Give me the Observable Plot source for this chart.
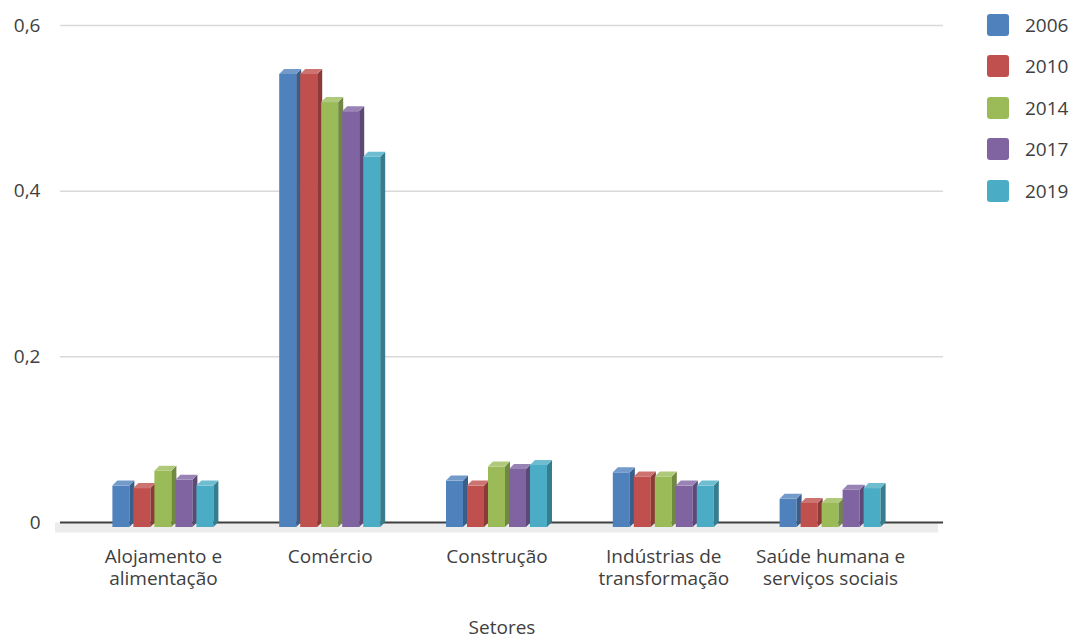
<!DOCTYPE html>
<html>
<head>
<meta charset="utf-8">
<script src="https://cdn.jsdelivr.net/npm/d3@7"></script>
<script src="https://cdn.jsdelivr.net/npm/@observablehq/plot@0.6"></script>
<style>
  body { margin: 0; background: #fff; font-family: "Open Sans", sans-serif; }
  #chart { position: relative; width: 1073px; height: 641px; }
  #legend { position: absolute; left: 987px; top: 4px; }
  .item { display: flex; align-items: center; height: 41.5px; font-size: 19px; color: #404040; }
  .sw { width: 22px; height: 22px; border-radius: 3px; margin-right: 16px; }
</style>
</head>
<body>
<div id="chart"><div id="legend"></div></div>
<script>
// Sectors (categories) and their two-line axis labels
const sectors = ["Alojamento e alimentação", "Comércio", "Construção", "Indústrias de transformação", "Saúde humana e serviços sociais"];
const sectorLabels = ["Alojamento e\nalimentação", "Comércio", "Construção", "Indústrias de\ntransformação", "Saúde humana e\nserviços sociais"];

// Series
const years = ["2006", "2010", "2014", "2017", "2019"];
const colors = ["#4F81BD", "#C0504D", "#9BBB59", "#8064A2", "#4BACC6"];
const v2006 = [0.050, 0.547, 0.056, 0.066, 0.034];
const v2010 = [0.047, 0.547, 0.050, 0.061, 0.029];
const v2014 = [0.068, 0.513, 0.073, 0.061, 0.029];
const v2017 = [0.057, 0.502, 0.070, 0.050, 0.045];
const v2019 = [0.050, 0.447, 0.075, 0.050, 0.047];
const series = [v2006, v2010, v2014, v2017, v2019];

// Axis ticks
const yTicks = [0, 0.2, 0.4, 0.6];

const data = years.flatMap((year, j) =>
  sectors.map((sector, i) => ({sector, year, value: series[j][i]}))
);

// Layout of the pseudo-3D columns
const depth = 5;          // extrusion of the top and side faces
const barWidth = 17;      // front face width
const pitch = 21;         // distance between neighbouring columns
const xRange = [79.5, 913.5];
const bandwidth = (xRange[1] - xRange[0]) / sectors.length;
const groupWidth = pitch * (years.length - 1) + barWidth;

// Adds a darker side face and a lighter top face to every bar
function extrude(color) {
  const sideColor = d3.rgb(color).darker(0.9).formatHex();
  const topColor = d3.interpolateRgb(color, "#ffffff")(0.2);
  return (index, scales, values, dimensions, context, next) => {
    const g = next(index, scales, values, dimensions, context);
    const ns = g.namespaceURI;
    for (const r of Array.from(g.querySelectorAll("rect"))) {
      const x = +r.getAttribute("x"), y = +r.getAttribute("y");
      const w = +r.getAttribute("width"), h = +r.getAttribute("height");
      const side = document.createElementNS(ns, "path");
      side.setAttribute("d", `M${x + w},${y}l${depth},${-depth}v${h}l${-depth},${depth}Z`);
      side.setAttribute("fill", sideColor);
      const top = document.createElementNS(ns, "path");
      top.setAttribute("d", `M${x},${y}l${depth},${-depth}h${w}l${-depth},${depth}Z`);
      top.setAttribute("fill", topColor);
      r.after(side, top);
    }
    return g;
  };
}

const barMarks = years.map((year, j) => {
  const insetLeft = (bandwidth - groupWidth) / 2 + pitch * j;
  const insetRight = bandwidth - insetLeft - barWidth;
  return Plot.barY(data.filter(d => d.year === year), {
    x: "sector",
    y: "value",
    fill: colors[j],
    insetLeft,
    insetRight,
    render: extrude(colors[j])
  });
});

const fmt = d => String(d).replace(".", ",");

const chart = Plot.plot({
  width: 1073,
  height: 641,
  marginTop: 30,
  marginBottom: 114,
  marginLeft: 60,
  marginRight: 130,
  style: {fontFamily: "Open Sans, sans-serif", fontSize: "19px", color: "#404040", background: "#fff", overflow: "visible"},
  x: {domain: sectors, range: xRange, padding: 0, round: false, label: null},
  y: {domain: [0, 0.6], label: null},
  marks: [
    // back-wall gridlines
    Plot.ruleY(yTicks.filter(d => d > 0), {stroke: "#d9d9d9", strokeWidth: 1.5, dy: -depth}),
    // floor
    Plot.ruleY([0], {stroke: "#ececec", strokeWidth: 10, dx: -depth}),
    // baseline
    Plot.ruleY([0], {stroke: "#404040", strokeWidth: 2, dy: -depth}),
    Plot.axisY({ticks: yTicks, tickFormat: fmt, tickSize: 0, tickPadding: 20, dy: -depth, fontSize: 19, label: null}),
    Plot.axisX({tickFormat: d => sectorLabels[sectors.indexOf(d)], tickSize: 0, tickPadding: 20, fontSize: 19, lineHeight: 1.15, label: null}),
    Plot.text(["Setores"], {frameAnchor: "bottom", lineAnchor: "top", dy: 93, fontSize: 19, fill: "#404040"}),
    ...barMarks
  ]
});

document.getElementById("chart").prepend(chart);

// Legend
const legend = document.getElementById("legend");
years.forEach((year, j) => {
  const item = document.createElement("div");
  item.className = "item";
  const sw = document.createElement("div");
  sw.className = "sw";
  sw.style.background = colors[j];
  item.append(sw, document.createTextNode(year));
  legend.append(item);
});
</script>
</body>
</html>
